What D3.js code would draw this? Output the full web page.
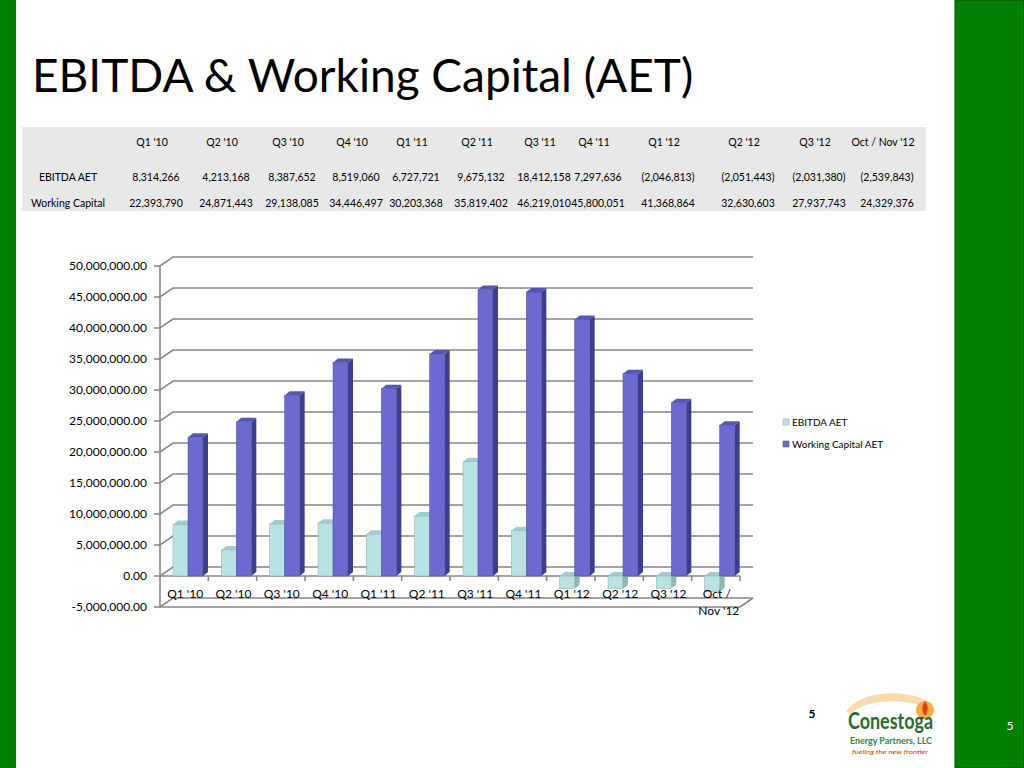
<!DOCTYPE html>
<html lang="en">
<head>
    <meta charset="UTF-8">
    <title>EBITDA & Working Capital (AET)</title>
    <script src="https://d3js.org/d3.v7.min.js"></script>
    <style>
        body { margin: 0; background: #fff; }
        text { font-family: Lato, "Open Sans", sans-serif; }
    </style>
</head>
<body>

<script>
    // data
    var categories = ["Q1 '10", "Q2 '10", "Q3 '10", "Q4 '10", "Q1 '11", "Q2 '11",
        "Q3 '11", "Q4 '11", "Q1 '12", "Q2 '12", "Q3 '12", "Oct / Nov '12"];
    var ebitda = [8314266, 4213168, 8387652, 8519060, 6727721, 9675132,
        18412158, 7297636, -2046813, -2051443, -2031380, -2539843];
    var workingCapital = [22393790, 24871443, 29138085, 34446497, 30203368, 35819402,
        46219010, 45800051, 41368864, 32630603, 27937743, 24329376];
    var seriesNames = ["EBITDA AET", "Working Capital AET"];
    var rowLabels = ["EBITDA AET", "Working Capital"];
    var yTickValues = [-5000000, 0, 5000000, 10000000, 15000000, 20000000, 25000000,
        30000000, 35000000, 40000000, 45000000, 50000000];

    width = 1024;
    height = 768;
    var svg = d3.select("body").append("svg")
        .attr("width", width)
        .attr("height", height);

    // slide frame
    svg.append("rect").attr("x", 0).attr("y", 0).attr("width", 16).attr("height", height).attr("fill", "#008000");
    svg.append("rect").attr("x", 955).attr("y", 0).attr("width", 69).attr("height", height)
        .attr("fill", "#008000").attr("stroke", "#004d00").attr("stroke-width", 1);
    svg.append("text").attr("x", 1010).attr("y", 730).attr("text-anchor", "middle")
        .attr("fill", "#fff").attr("font-size", 12).text("5");

    svg.append("text")
        .attr("x", 32).attr("y", 92)
        .attr("font-size", 46)
        .attr("fill", "#000")
        .text("EBITDA & Working Capital (AET)");

    // ---- table ----
    var tableX = d3.scaleOrdinal()
        .domain(categories)
        .range([156, 226, 292, 356, 416, 481, 544, 598, 668, 748, 819, 887]);
    var money = d3.format(",");
    function acct(v) { return v < 0 ? "(" + money(-v) + ")" : money(v); }

    svg.append("rect").attr("x", 22).attr("y", 127).attr("width", 904).attr("height", 84).attr("fill", "#e8e8e8");

    var table = svg.append("g").attr("font-size", 10.5).attr("fill", "#000").attr("text-anchor", "middle");
    table.selectAll(".hdr").data(categories).enter().append("text")
        .attr("x", function(d) { return tableX(d) - 4; })
        .attr("y", 146)
        .text(function(d) { return d; });
    [ebitda, workingCapital].forEach(function(row, i) {
        var yy = i === 0 ? 181 : 207;
        table.append("text").attr("x", 68).attr("y", yy).text(rowLabels[i]);
        table.selectAll(".r" + i).data(row).enter().append("text")
            .attr("x", function(d, j) { return tableX(categories[j]); })
            .attr("y", yy)
            .text(acct);
    });

    // ---- 3D column chart ----
    var depth = [13, -9];     // wall depth offset
    var barDepth = [5, -4];   // bar depth offset
    var x = d3.scaleBand().domain(categories).range([160, 740]);
    var xs = d3.scaleBand().domain(seriesNames).range([0, 30]);
    var y = d3.scaleLinear().domain([-5000000, 50000000]).range([607, 266]);
    var yFmt = function(v) { return d3.format(",.2f")(v).replace("\u2212", "-"); };

    var gridColor = "#878787";
    var walls = svg.append("g").attr("fill", "none").attr("stroke", gridColor).attr("stroke-width", 1.6);
    walls.selectAll("path.grid").data(yTickValues).enter().append("path")
        .attr("d", function(v) {
            var yy = y(v);
            return "M154," + yy + "L160," + yy + "L" + (160 + depth[0]) + "," + (yy + depth[1])
                + "L" + (x.range()[1] + depth[0]) + "," + (yy + depth[1]);
        });
    walls.append("line").attr("x1", 160).attr("x2", 160).attr("y1", y(50000000)).attr("y2", y(-5000000));
    // floor front edge
    walls.append("path").attr("d", "M160," + y(-5000000) + "L" + x.range()[1] + "," + y(-5000000)
        + "L" + (x.range()[1] + depth[0]) + "," + (y(-5000000) + depth[1]));
    // zero axis with category ticks
    walls.append("line").attr("x1", 160).attr("x2", x.range()[1]).attr("y1", y(0)).attr("y2", y(0));
    walls.selectAll("line.tk").data(categories.slice(1).concat(["end"])).enter().append("line")
        .attr("x1", function(d, i) { return x.range()[0] + (i + 1) * x.bandwidth(); })
        .attr("x2", function(d, i) { return x.range()[0] + (i + 1) * x.bandwidth(); })
        .attr("y1", y(0)).attr("y2", y(0) + 5);

    svg.append("g").attr("font-size", 12).attr("text-anchor", "end").attr("fill", "#000")
        .selectAll("text").data(yTickValues).enter().append("text")
        .attr("x", 147).attr("y", function(v) { return y(v) + 4; })
        .text(yFmt);

    var colors = {
        "EBITDA AET": { front: "#b9e2e2", side: "#8fb5b5", top: "#a3cdcd", edge: "#8aa8a8" },
        "Working Capital AET": { front: "#6a6ad0", side: "#3e3e8e", top: "#5656b0", edge: "#4a4aa0" }
    };

    function drawBar(g, cat, name, v) {
        var c = colors[name];
        var x0 = x(cat) + 13 + xs(name), x1 = x0 + xs.bandwidth();
        var yt = Math.min(y(v), y(0)), yb = Math.max(y(v), y(0));
        var dx = barDepth[0], dy = barDepth[1];
        g.append("path").attr("fill", c.side)
            .attr("d", "M" + x1 + "," + yt + "L" + (x1 + dx) + "," + (yt + dy) + "L" + (x1 + dx) + "," + (yb + dy) + "L" + x1 + "," + yb + "Z");
        g.append("path").attr("fill", c.top)
            .attr("d", "M" + x0 + "," + yt + "L" + (x0 + dx) + "," + (yt + dy) + "L" + (x1 + dx) + "," + (yt + dy) + "L" + x1 + "," + yt + "Z");
        g.append("rect").attr("x", x0).attr("y", yt).attr("width", x1 - x0).attr("height", yb - yt)
            .attr("fill", c.front).attr("stroke", c.edge).attr("stroke-width", 0.5);
    }
    var bars = svg.append("g");
    categories.forEach(function(cat, i) {
        drawBar(bars, cat, seriesNames[0], ebitda[i]);
        drawBar(bars, cat, seriesNames[1], workingCapital[i]);
    });

    // category labels, wrapped when wider than the band
    var catLabels = svg.append("g").attr("font-size", 12).attr("text-anchor", "middle").attr("fill", "#000");
    categories.forEach(function(cat) {
        var cx = x(cat) + x.bandwidth() / 2 + 1;
        var lines = cat.length > 8 ? [cat.slice(0, cat.indexOf("/") + 1), cat.slice(cat.indexOf("/") + 2)] : [cat];
        lines.forEach(function(l, k) {
            catLabels.append("text").attr("x", cx + k * 2).attr("y", 598 + k * 17).text(l);
        });
    });

    // legend
    var legend = svg.append("g").attr("font-size", 10);
    seriesNames.forEach(function(n, i) {
        legend.append("rect").attr("x", 783).attr("y", 419 + i * 22).attr("width", 6).attr("height", 6)
            .attr("fill", colors[n].front).attr("stroke", colors[n].edge).attr("stroke-width", 0.5);
        legend.append("text").attr("x", 792).attr("y", 426 + i * 22).text(n);
    });

    // page number and logo
    svg.append("text").attr("x", 812).attr("y", 718).attr("text-anchor", "middle")
        .attr("font-size", 12).attr("font-weight", "bold").text("5");
    var logo = svg.append("g");
    logo.append("path").attr("fill", "#f8dcae")
        .attr("d", "M846,712 C858,692 900,688 926,700 L922,706 C898,698 866,700 850,714 Z");
    logo.append("circle").attr("cx", 925).attr("cy", 710).attr("r", 9).attr("fill", "#f5ad3c");
    logo.append("path").attr("fill", "#d8402a").attr("d", "M925,701 C929,706 928,712 925,716 C922,712 921,706 925,701 Z");
    logo.append("text").attr("x", 848).attr("y", 729).attr("font-family", "'DejaVu Sans Condensed', sans-serif")
        .attr("font-weight", "bold").attr("font-size", 22).attr("fill", "#1f6e2c")
        .attr("textLength", 85).attr("lengthAdjust", "spacingAndGlyphs").text("Conestoga");
    logo.append("text").attr("x", 850).attr("y", 744).attr("font-family", "'DejaVu Sans Condensed', sans-serif")
        .attr("font-weight", "bold").attr("font-size", 9).attr("fill", "#2b8a3a")
        .attr("textLength", 82).attr("lengthAdjust", "spacingAndGlyphs").text("Energy Partners, LLC");
    logo.append("text").attr("x", 852).attr("y", 754).attr("font-style", "italic")
        .attr("font-size", 6).attr("fill", "#c0392b")
        .attr("textLength", 76).attr("lengthAdjust", "spacingAndGlyphs").text("fueling the new frontier");
</script>
</body>
</html>
